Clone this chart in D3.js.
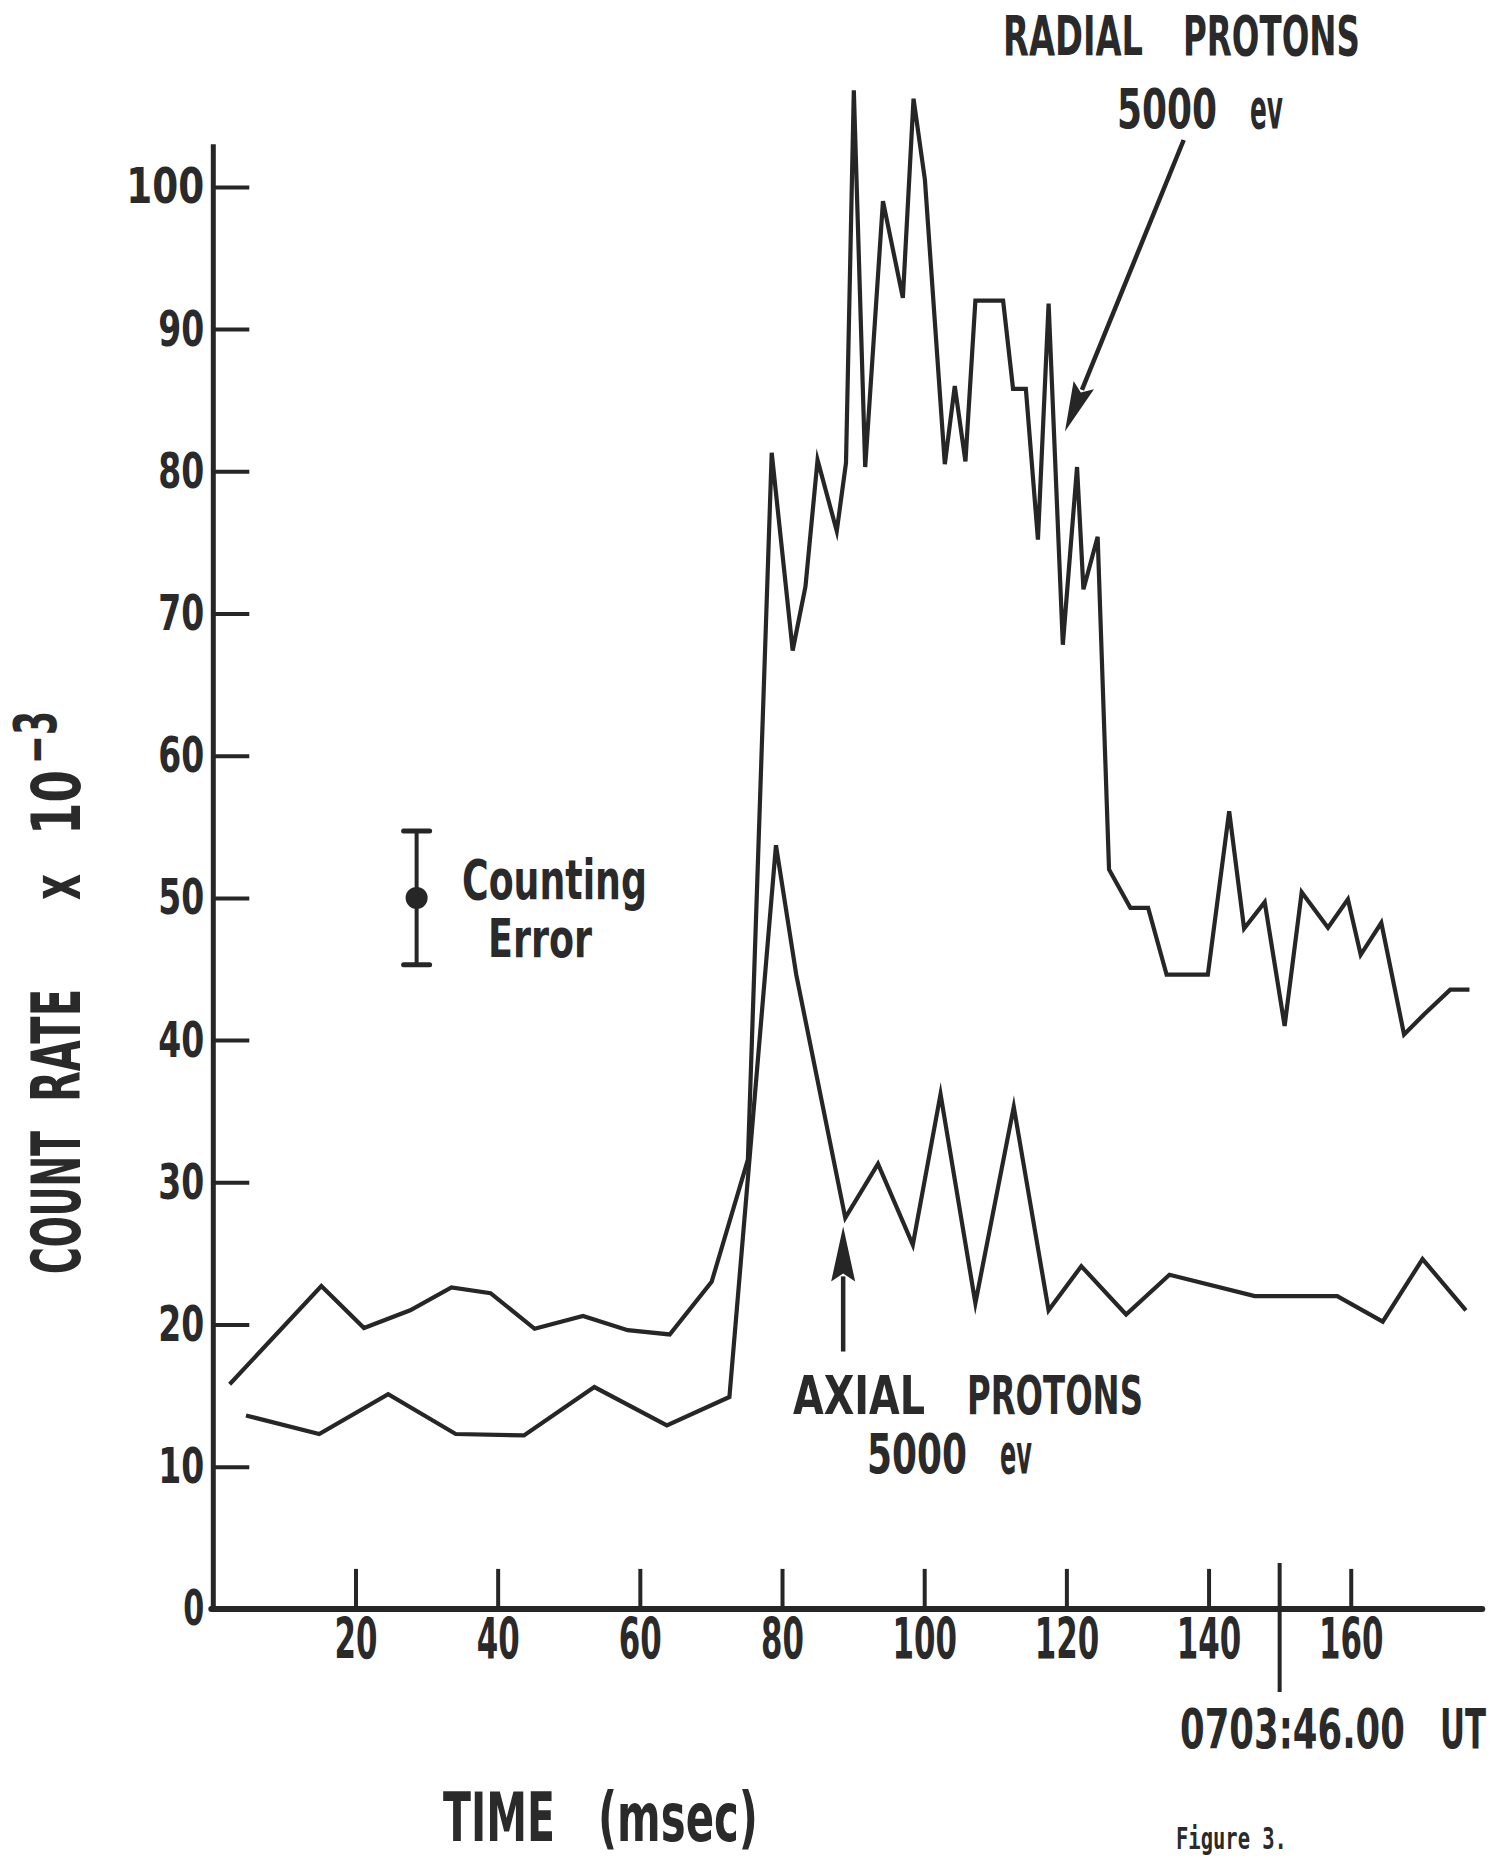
<!DOCTYPE html>
<html lang="en">
<meta charset="utf-8">
<head>
<script src="https://d3js.org/d3.v7.min.js"></script>
<style>
body { margin: 0; background: #fff; }
svg text {
	fill: #2a2a2a;
	font-family: "Liberation Sans Narrow", "DejaVu Sans Condensed", "Liberation Sans", sans-serif;
	font-weight: bold;
}
svg text.mono {
	font-family: "DejaVu Sans Mono", "Liberation Mono", monospace;
	font-weight: bold;
}
</style>
</head>
<body>
<script>
// values: time in msec, count rate x 10^-3
var radialTime = [2.3, 15.2, 21.2, 27.7, 33.5, 39.0, 45.2, 52.0, 58.3, 64.2, 70.1, 75.2,
	78.55, 81.5, 83.3, 85.0, 87.7, 89.0, 90.1, 91.7, 94.2, 97.0, 98.5, 100.1, 102.9, 104.3,
	105.8, 107.2, 111.1, 112.5, 114.3, 116.0, 117.5, 119.5, 121.5, 122.4, 124.4, 126.0,
	129.0, 131.5, 134.1, 139.9, 142.9, 145.0, 147.9, 150.7, 153.1, 156.8, 159.6, 161.4,
	164.3, 167.5, 170.3, 174.0, 176.7];
var radialRate = [15.8, 22.7, 19.75, 21.0, 22.6, 22.2, 19.7, 20.6, 19.6, 19.3, 23.0, 31.6,
	81.3, 67.4, 71.9, 80.8, 75.8, 80.6, 106.8, 80.3, 99.0, 92.2, 106.2, 100.5, 80.5, 86.0,
	80.7, 92.0, 92.0, 85.8, 85.8, 75.2, 91.8, 67.8, 80.3, 71.7, 75.4, 52.0,
	49.3, 49.3, 44.6, 44.6, 56.1, 47.85, 49.7, 41.0, 50.4, 47.9, 49.9, 46.0,
	48.25, 40.4, 41.8, 43.55, 43.55];

var axialTime = [4.6, 14.9, 24.6, 34.1, 43.7, 53.6, 63.8, 72.6, 79.15, 82.0, 88.9, 93.5,
	98.4, 102.3, 107.2, 112.6, 117.5, 122.1, 128.4, 134.5, 146.5, 158.1, 164.5, 170.1, 176.2];
var axialRate = [13.6, 12.3, 15.1, 12.3, 12.2, 15.6, 12.9, 14.9, 53.7, 44.6, 27.5, 31.3,
	25.6, 36.2, 21.5, 35.3, 21.0, 24.1, 20.7, 23.5, 22.0, 22.0, 20.2, 24.6, 21.0];

var xTicks = [20, 40, 60, 80, 100, 120, 140, 160];
var yTicks = [0, 10, 20, 30, 40, 50, 60, 70, 80, 90, 100];

// counting error bar (time, rate, half height)
var errBar = [28.6, 50, 4.7];
// time marker for 0703:46.00 UT
var utTime = 150;

var width = 1494, height = 1858;
var ink = "#262626";

var svg = d3.select("body").append("svg")
	.attr("width", width)
	.attr("height", height);

var x = d3.scaleLinear().domain([0, 180]).range([213.3, 213.3 + 180 * 7.109]);
var y = d3.scaleLinear().domain([0, 100]).range([1608.9, 186.9]);

// squeeze a text to a given width with a horizontal scale
function squeeze(sel, len, dx, dy) {
	sel.each(function(d) {
		var w = this.getComputedTextLength();
		var L = typeof len === "function" ? len(d) : len;
		d3.select(this).attr("transform",
			"translate(" + (dx || 0) + "," + (dy || 0) + ") scale(" + (L / w) + ",1)");
	});
}

// axes
var yAxis = d3.axisLeft(y)
	.tickValues(yTicks)
	.tickSizeInner(-36)
	.tickSizeOuter(0)
	.tickPadding(9);
var gy = svg.append("g")
	.attr("transform", "translate(" + x(0) + ",0)")
	.call(yAxis);
gy.select(".domain").remove();
gy.selectAll(".tick line").attr("stroke", ink).attr("stroke-width", 4);
gy.selectAll(".tick text")
	.attr("font-size", 50)
	.attr("fill", "#2a2a2a")
	.attr("x", 0)
	.call(squeeze, function(d) { return d == 100 ? 78 : d == 0 ? 21 : 46; }, -9, 0);

var xAxis = d3.axisBottom(x)
	.tickValues(xTicks)
	.tickSizeInner(-40)
	.tickSizeOuter(0)
	.tickPadding(10);
var gx = svg.append("g")
	.attr("transform", "translate(0," + y(0) + ")")
	.call(xAxis);
gx.select(".domain").remove();
gx.selectAll(".tick line").attr("stroke", ink).attr("stroke-width", 4);
gx.selectAll(".tick text")
	.attr("font-size", 57)
	.attr("fill", "#2a2a2a")
	.attr("y", 0)
	.call(squeeze, function(d) { return String(d).length * 21.5; }, 0, 10);

// axis lines
svg.append("line")
	.attr("x1", x(0)).attr("x2", x(0))
	.attr("y1", y(0) + 2).attr("y2", y(103))
	.attr("stroke", ink).attr("stroke-width", 5);
svg.append("line")
	.attr("x1", x(0) - 2).attr("x2", x(178.5))
	.attr("y1", y(0)).attr("y2", y(0))
	.attr("stroke", ink).attr("stroke-width", 6)
	.attr("stroke-linecap", "round");

// UT marker
svg.append("line")
	.attr("x1", x(utTime)).attr("x2", x(utTime))
	.attr("y1", y(0) - 46).attr("y2", y(0) + 83)
	.attr("stroke", ink).attr("stroke-width", 4);

// data lines
function series(tt, vv) {
	return tt.map(function(t, i) { return [t, vv[i]]; });
}
var line = d3.line()
	.x(function(d) { return x(d[0]); })
	.y(function(d) { return y(d[1]); });

svg.append("path")
	.datum(series(radialTime, radialRate))
	.attr("d", line)
	.attr("fill", "none")
	.attr("stroke", ink)
	.attr("stroke-width", 4.2)
	.attr("stroke-linejoin", "miter")
	.attr("stroke-miterlimit", 6);

svg.append("path")
	.datum(series(axialTime, axialRate))
	.attr("d", line)
	.attr("fill", "none")
	.attr("stroke", ink)
	.attr("stroke-width", 4.2)
	.attr("stroke-linejoin", "miter")
	.attr("stroke-miterlimit", 6);

// counting error bar
var ex = x(errBar[0]);
svg.append("line")
	.attr("x1", ex).attr("x2", ex)
	.attr("y1", y(errBar[1] + errBar[2])).attr("y2", y(errBar[1] - errBar[2]))
	.attr("stroke", ink).attr("stroke-width", 4);
[errBar[1] + errBar[2], errBar[1] - errBar[2]].forEach(function(v) {
	svg.append("line")
		.attr("x1", ex - 13).attr("x2", ex + 13)
		.attr("y1", y(v)).attr("y2", y(v))
		.attr("stroke", ink).attr("stroke-width", 5)
		.attr("stroke-linecap", "round");
});
svg.append("circle")
	.attr("cx", ex).attr("cy", y(errBar[1]))
	.attr("r", 11)
	.attr("fill", ink);

// arrows
function arrow(t1, v1, t2, v2, headLen, headHalf) {
	var x1 = x(t1), y1 = y(v1), x2 = x(t2), y2 = y(v2);
	var dx = x2 - x1, dy = y2 - y1, len = Math.sqrt(dx * dx + dy * dy);
	var ux = dx / len, uy = dy / len;
	var bx = x2 - ux * headLen, by = y2 - uy * headLen;
	svg.append("line")
		.attr("x1", x1).attr("y1", y1)
		.attr("x2", bx + ux * 5).attr("y2", by + uy * 5)
		.attr("stroke", ink).attr("stroke-width", 4.5);
	svg.append("polygon")
		.attr("points", [[x2, y2], [bx - uy * headHalf, by + ux * headHalf],
			[bx + ux * 8, by + uy * 8], [bx + uy * headHalf, by - ux * headHalf]]
			.map(function(p) { return p.join(","); }).join(" "))
		.attr("fill", ink);
}
arrow(136.5, 103.3, 119.8, 82.8, 50, 11);
arrow(88.6, 18.1, 88.6, 26.9, 55, 12);

// labels
function label(parent, txt, px, py, size, len, cls) {
	var t = parent.append("text")
		.attr("class", cls || null)
		.attr("font-size", size)
		.text(txt);
	t.call(squeeze, len, px, py);
	return t;
}

label(svg, "RADIAL", 1003, 55, 56, 140);
label(svg, "PROTONS", 1183, 55, 56, 177);
label(svg, "5000", 1117, 128, 56, 100);
label(svg, "ev", 1250, 128, 56, 33);

label(svg, "AXIAL", 793, 1414, 54, 132);
label(svg, "PROTONS", 967, 1414, 54, 176);
label(svg, "5000", 867, 1473, 55, 100);
label(svg, "ev", 1000, 1473, 55, 32);

label(svg, "Counting", 462, 899, 56, 185);
label(svg, "Error", 488, 957, 54, 104);

label(svg, "TIME", 443, 1841, 67, 112);
label(svg, "(msec)", 598, 1841, 67, 160);

label(svg, "0703:46.00", 1180, 1748, 56, 225);
label(svg, "UT", 1440, 1748, 56, 46);

label(svg, "Figure 3.", 1176, 1849, 30, 111, "mono");

// rotated y axis title, placed by its span along the page height
var gt = svg.append("g").attr("transform", "translate(80,0) rotate(-90)");
function vlabel(txt, yStart, yEnd, size, lift) {
	label(gt, txt, -yStart, -(lift || 0), size, yStart - yEnd);
}
vlabel("COUNT", 1274, 1131, 67);
vlabel("RATE", 1102, 989, 67);
vlabel("x", 900, 874, 67);
vlabel("10", 835, 770, 67);
vlabel("\u22123", 764, 711, 58, 24);
</script>
</body>
</html>
